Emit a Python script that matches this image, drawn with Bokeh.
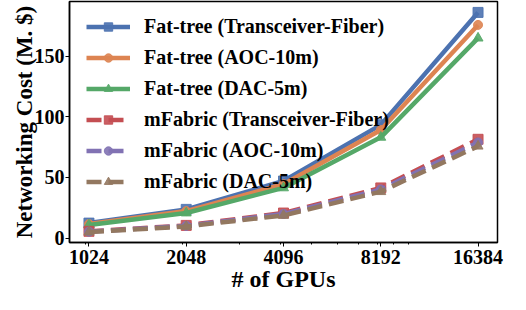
from bokeh.plotting import figure
from bokeh.models import FixedTicker, Range1d, Legend, LegendItem
from bokeh.embed import file_html
from bokeh.resources import INLINE

gpus = [1024, 2048, 4096, 8192, 16384]
gpu_labels = ["1024", "2048", "4096", "8192", "16384"]
minor_x = [1000, 2000, 3000, 4000, 5000, 6000, 7000, 8000, 9000, 10000]
y_ticks = [0, 50, 100, 150]

fat_tf = [12.3, 23.6, 47.0, 93.3, 186.0]
fat_aoc = [11.5, 22.2, 44.4, 89.0, 175.7]
fat_dac = [10.8, 20.6, 41.3, 83.0, 164.8]
mf_tf = [5.5, 10.4, 20.6, 41.3, 81.4]
mf_aoc = [5.2, 10.0, 19.8, 40.0, 78.8]
mf_dac = [4.9, 9.5, 18.6, 38.2, 75.7]

series = [
    ("Fat-tree (Transceiver-Fiber)", fat_tf, "#4C72B0", "square", "solid"),
    ("Fat-tree (AOC-10m)", fat_aoc, "#DD8452", "circle", "solid"),
    ("Fat-tree (DAC-5m)", fat_dac, "#55A868", "triangle", "solid"),
    ("mFabric (Transceiver-Fiber)", mf_tf, "#C44E52", "square", "15 7"),
    ("mFabric (AOC-10m)", mf_aoc, "#8172B3", "circle", "15 7"),
    ("mFabric (DAC-5m)", mf_dac, "#937860", "triangle", "15 7"),
]

FONT = "Liberation Serif"

p = figure(width=510, height=294, output_backend="svg", toolbar_location=None,
           x_axis_type="log", x_range=Range1d(1024 / 2 ** 0.2, 16384 * 2 ** 0.2),
           y_range=Range1d(-3.7, 195), min_border_left=69, min_border_right=13,
           min_border_top=1, min_border_bottom=10)

items = []
for name, vals, color, marker, dash in series:
    r1 = p.line(gpus, vals, line_color=color, line_width=4.5, line_dash=dash)
    r2 = p.scatter(gpus, vals, marker=marker, size=10 if marker != "circle" else 9,
                   fill_color=color, line_color=color, alpha=0.9)
    items.append(LegendItem(label=name, renderers=[r1, r2]))

legend = Legend(items=items, location=(17, 49), border_line_color=None,
                background_fill_alpha=0, padding=0, margin=0, spacing=8,
                glyph_width=44, glyph_height=21, label_height=21, label_standoff=14,
                label_text_font=FONT, label_text_font_style="bold",
                label_text_font_size="20px", label_text_color="black")
p.add_layout(legend)

p.grid.visible = False
p.outline_line_color = "black"
p.outline_line_width = 1.5

p.xaxis.ticker = FixedTicker(ticks=gpus, minor_ticks=minor_x)
p.xaxis.major_label_overrides = {g: l for g, l in zip(gpus, gpu_labels)}
p.yaxis.ticker = FixedTicker(ticks=y_ticks)

for ax in (p.xaxis[0], p.yaxis[0]):
    ax.axis_line_color = "black"
    ax.axis_line_width = 1.5
    ax.major_tick_line_color = "black"
    ax.major_tick_in = 0
    ax.major_tick_out = 4
    ax.minor_tick_in = 0
    ax.minor_tick_out = 2
    ax.major_label_text_font = FONT
    ax.major_label_text_font_style = "bold"
    ax.major_label_text_font_size = "20px"
    ax.major_label_text_color = "black"
    ax.axis_label_text_font = FONT
    ax.axis_label_text_font_style = "bold"
    ax.axis_label_text_color = "black"

p.xaxis.axis_label = "# of GPUs"
p.yaxis.axis_label = "Networking Cost (M. $)"
p.xaxis.axis_label_text_font_size = "24px"
p.yaxis.axis_label_text_font_size = "23px"
p.xaxis.major_label_standoff = 3
p.xaxis.axis_label_standoff = -1
p.yaxis.major_label_standoff = 1
p.yaxis.axis_label_standoff = -5

open("out.html", "w").write(file_html(p, INLINE))
